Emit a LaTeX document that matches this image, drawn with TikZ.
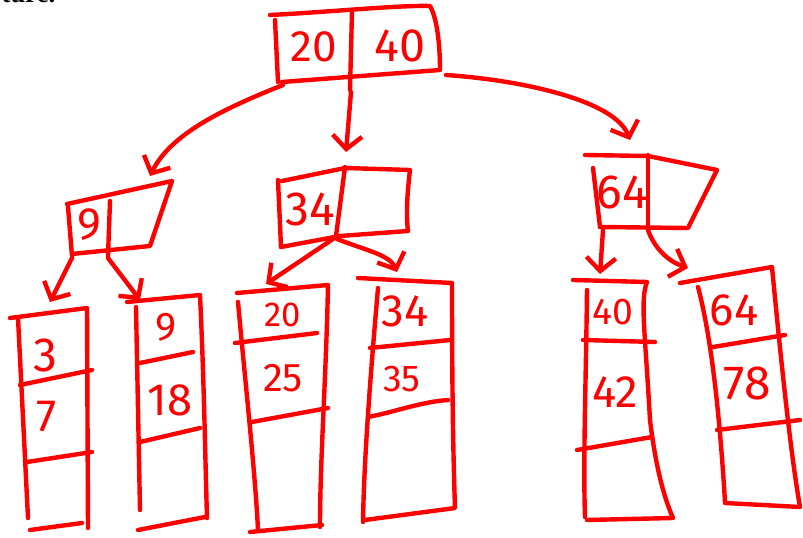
\documentclass[tikz,border=0pt]{standalone}
\usepackage{fontspec}
\setmainfont{Liberation Serif}
\newfontfamily\hand{Fira Sans}
\usetikzlibrary{arrows.meta}
\definecolor{ink}{RGB}{255,0,0}
\begin{document}
\begin{tikzpicture}[x=0.75pt,y=-0.75pt,
  pen/.style={draw=ink, line width=3.3pt, line cap=round, line join=round},
  arr/.style={pen, -{Straight Barb[length=10pt,width=22pt]}},
  key/.style={text=ink, inner sep=0pt, font=\hand\fontsize{#1}{#1}\selectfont},
  key/.default=32]
\useasboundingbox (0,0) rectangle (803,538);
\clip (0,0) rectangle (803,538);

% fragment of the running text above the figure
\node[anchor=base west, font=\fontsize{20}{20}\selectfont\bfseries] (frag) at (-3,3) {ture.};

% ---------- root: 20 | 40 ----------
\draw[pen] (270,15) .. controls (330,12) and (400,5) .. (430,6)
           .. controls (438,20) and (440,50) .. (440,70) -- (282,82);
\draw[pen] (275,20) -- (278,82);
\draw[pen] (352,11) -- (350,90);
\node[key=33] (r20) at (314,47) {20};
\node[key=35] (r40) at (400,46) {40};
\coordinate (rootL) at (283,85);
\coordinate (rootM) at (351,92);
\coordinate (rootR) at (446,75);

% ---------- internal node: 9 ----------
\draw[pen] (67,204) -- (172,181) -- (150,246) -- (72,254);
\draw[pen] (68,207) -- (72,256);
\draw[pen] (110,201) -- (108,256);
\node[key=34] (n9) at (89,225) {9};
\coordinate (n9top) at (150,176);
\coordinate (n9L) at (72,258);
\coordinate (n9R) at (108,258);

% ---------- internal node: 34 ----------
\draw[pen] (282,181) -- (345,168) -- (410,170)
           .. controls (407,195) and (406,215) .. (408,231)
           -- (340,236) -- (281,247);
\draw[pen] (278,180) -- (281,247);
\draw[pen] (345,167) -- (336,236);
\node[key=36] (n34) at (310,209) {34};
\coordinate (n34top) at (346,152);
\coordinate (n34L) at (333,239);
\coordinate (n34R) at (337,239);

% ---------- internal node: 64 ----------
\draw[pen] (585,155) -- (648,156) -- (717,170) -- (688,228) -- (600,227);
\draw[pen] (593,168) -- (600,227);
\draw[pen] (648,155) -- (648,228);
\node[key=36] (n64) at (622,192) {64};
\coordinate (n64top) at (630,140);
\coordinate (n64L) at (603,230);
\coordinate (n64R) at (648,230);

% ---------- leaves ----------
% leaf 3 | 7
\draw[pen] (10,318) -- (87,308) -- (88,528);
\draw[pen] (18,318) -- (28,518);
\draw[pen] (30,530) -- (82,523);
\draw[pen] (20,385) -- (92,370);
\draw[pen] (27,462) -- (92,452);
\node[key=36] (l3) at (45,355) {3};
\node[key=34] (l7) at (47,417) {7};
\coordinate (l1top) at (50,302);

% leaf 9 | 18
\draw[pen] (127,302) -- (200,295) .. controls (204,380) and (205,450) .. (207,518);
\draw[pen] (136,307) -- (140,510);
\draw[pen] (138,530) -- (205,517);
\draw[pen] (140,363) -- (193,352);
\draw[pen] (140,442) -- (200,428);
\node[key=30] (l9) at (166,327) {9};
\node[key=34] (l18) at (170,400) {18};
\coordinate (l2top) at (140,300);

% leaf 20 | 25
\draw[pen] (237,293) -- (328,285) .. controls (326,380) and (320,460) .. (320,527);
\draw[pen] (238,302) .. controls (245,380) and (255,470) .. (258,530);
\draw[pen] (250,532) -- (322,525);
\draw[pen] (235,343) -- (317,333);
\draw[pen] (252,422) -- (328,408);
\node[key=26] (l20) at (283,315) {20};
\node[key=30] (l25) at (283,378) {25};
\coordinate (l3top) at (266,284);

% leaf 34 | 35
\draw[pen] (358,278) -- (452,283) .. controls (452,380) and (453,450) .. (455,508) -- (365,520);
\draw[pen] (378,288) .. controls (370,380) and (364,460) .. (363,522);
\draw[pen] (370,348) -- (450,340);
\draw[pen] (368,417) .. controls (395,412) and (420,402) .. (448,400);
\node[key=34] (l34) at (405,311) {34};
\node[key=28] (l35) at (402,379) {35};
\coordinate (l4top) at (397,272);

% leaf 40 | 42
\draw[pen] (573,280) -- (647,282) .. controls (640,300) and (645,330) .. (650,420)
           .. controls (656,470) and (665,500) .. (673,518) -- (587,520);
\draw[pen] (587,290) .. controls (586,380) and (583,460) .. (585,517);
\draw[pen] (583,340) -- (655,342);
\draw[pen] (577,450) -- (652,437);
\node[key=28] (l40) at (613,312) {40};
\node[key=34] (l42) at (615,392) {42};
\coordinate (l5top) at (600,274);

% leaf 64 | 78
\draw[pen] (680,283) -- (772,267) .. controls (780,350) and (790,450) .. (800,507) -- (725,503);
\draw[pen] (698,287) .. controls (712,340) and (720,420) .. (725,502);
\draw[pen] (713,347) -- (785,335);
\draw[pen] (717,430) -- (800,420);
\node[key=34] (l64) at (734,310) {64};
\node[key=36] (l78) at (747,383) {78};
\coordinate (l6top) at (688,268);

% ---------- pointers ----------
\draw[arr] (rootL) .. controls (220,110) and (170,135) .. (n9top);
\draw[arr] (rootM) -- (n34top);
\draw[arr] (rootR) .. controls (520,80) and (615,100) .. (n64top);

\draw[arr] (n9L) -- (l1top);
\draw[arr] (n9R) -- (l2top);
\draw[arr] (n34L) -- (l3top);
\draw[arr] (n34R) .. controls (365,250) and (390,255) .. (l4top);
\draw[arr] (n64L) -- (l5top);
\draw[arr] (n64R) .. controls (655,250) and (670,262) .. (l6top);
\end{tikzpicture}
\end{document}
